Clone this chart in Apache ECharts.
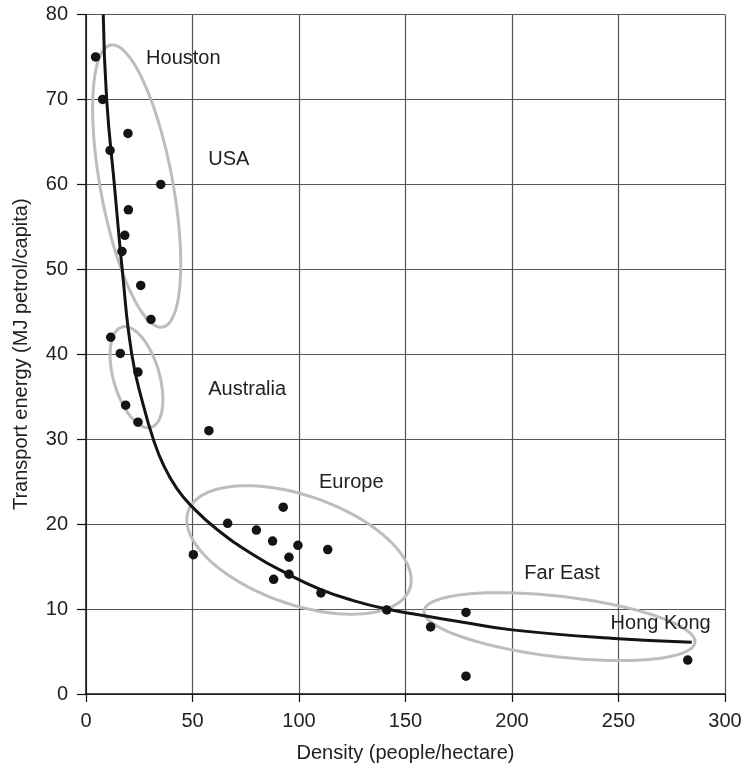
<!DOCTYPE html>
<html><head><meta charset="utf-8">
<script src="https://cdn.jsdelivr.net/npm/echarts@6/dist/echarts.min.js"></script>
<style>html,body{margin:0;padding:0;background:#fff}#c{width:745px;height:770px}</style>
</head><body><div id="c"></div>
<script>
// ---- data (density people/ha, transport energy MJ petrol/capita) ----
const usaCities = [[4.5,75],[7.8,70],[19.7,66],[11.3,64],[35.1,60],[19.9,57],[18.2,54],[16.9,52.1],[25.7,48.1],[30.5,44.1]];
const australiaCities = [[11.6,42],[16.1,40.1],[24.4,37.9],[18.6,34],[24.4,32],[57.7,31]];
const europeCities = [[92.6,22],[66.5,20.1],[80,19.3],[87.6,18],[99.5,17.5],[113.5,17],[95.3,16.1],[50.4,16.4],[95.3,14.1],[88.1,13.5],[110.3,11.9],[141.2,9.9]];
const farEastCities = [[161.8,7.9],[178.4,9.6],[178.4,2.1],[282.5,4.0]];
const fitCurve = [[8.1,80],[9.7,70],[13.3,60],[17,50],[21.5,40],[26.9,34],[31.6,30],[36.3,27],[42.6,24.2],[50,22],[61.4,19.4],[78.5,16.4],[95,14.1],[110.3,12.3],[125.5,11.0],[141.2,10],[156.8,9.3],[177,8.45],[200,7.55],[250,6.5],[284.4,6.1]];
const groupNames = ['Houston','USA','Australia','Europe','Far East','Hong Kong'];
const xTitle = 'Density (people/hectare)';
const yTitle = 'Transport energy (MJ petrol/capita)';

// ---- annotation geometry (data coordinates) ----
const labelAnchors = [[28.2,74.8],[57.4,62.9],[57.4,35.8],[109.4,24.9],[205.8,14.2],[246.3,8.3]];
// centre, end of one semi-axis, end of the other semi-axis
const ellipseShapes = [
  [23.8,59.8, 36.0,43.2, 40.5,60.6],
  [23.7,37.3, 30.6,31.4, 34.0,38.1],
  [100.0,16.96, 152.0,12.4, 108.4,23.0],
  [222.3,7.93, 285.9,6.07, 223.9,11.47]
];

const FONT = '"Liberation Sans", Arial, Helvetica, sans-serif';
const TXT = '#222';
const DOT = '#141414';
const chart = echarts.init(document.getElementById('c'), null, {renderer:'canvas'});

function dotSeries(d){
  return {type:'scatter', data:d, symbol:'circle', symbolSize:9.5, itemStyle:{color:DOT, opacity:1}, z:4, silent:true};
}

const axisCommon = {
  nameLocation:'middle',
  nameTextStyle:{fontSize:20, color:TXT, fontFamily:FONT},
  axisLine:{show:true, onZero:false, lineStyle:{color:'#111', width:1.5}},
  splitLine:{show:true, lineStyle:{color:'#555', width:1.2}}
};

chart.setOption({
  animation:false,
  backgroundColor:'#fff',
  grid:{left:86, right:20, top:14.5, bottom:76},
  xAxis:Object.assign({}, axisCommon, {
    type:'value', min:0, max:300, interval:50, name:xTitle, nameGap:49,
    axisTick:{show:true, length:8, lineStyle:{color:'#111', width:1.2}},
    axisLabel:{fontSize:20, color:TXT, fontFamily:FONT, margin:17}
  }),
  yAxis:Object.assign({}, axisCommon, {
    type:'value', min:0, max:80, interval:10, name:yTitle, nameGap:55,
    axisTick:{show:true, length:9, lineStyle:{color:'#111', width:1.2}},
    axisLabel:{fontSize:20, color:TXT, fontFamily:FONT, margin:18}
  }),
  series:[
    {
      type:'custom', data:ellipseShapes, z:1, silent:true,
      encode:{x:[0,2,4], y:[1,3,5]},
      renderItem:function(params, api){
        const c = api.coord([api.value(0), api.value(1)]);
        const a = api.coord([api.value(2), api.value(3)]);
        const b = api.coord([api.value(4), api.value(5)]);
        const ux=a[0]-c[0], uy=a[1]-c[1], vx=b[0]-c[0], vy=b[1]-c[1];
        const pts=[];
        for(let i=0;i<160;i++){
          const t=i/160*2*Math.PI;
          pts.push([c[0]+ux*Math.cos(t)+vx*Math.sin(t), c[1]+uy*Math.cos(t)+vy*Math.sin(t)]);
        }
        return {type:'polygon', shape:{points:pts}, style:{fill:'none', stroke:'#bdbdbd', lineWidth:3}};
      }
    },
    {
      type:'line', data:fitCurve, smooth:0.5, symbol:'none', z:3, silent:true,
      lineStyle:{color:DOT, width:3}
    },
    dotSeries(usaCities),
    dotSeries(australiaCities),
    dotSeries(europeCities),
    dotSeries(farEastCities),
    {
      type:'custom', data:labelAnchors, z:5, silent:true,
      encode:{x:0, y:1},
      renderItem:function(params, api){
        const p = api.coord([api.value(0), api.value(1)]);
        return {type:'text', x:p[0], y:p[1], style:{text:groupNames[params.dataIndex], fill:TXT,
          fontSize:20, fontFamily:FONT, align:'left', verticalAlign:'middle'}};
      }
    }
  ]
});
</script></body></html>
